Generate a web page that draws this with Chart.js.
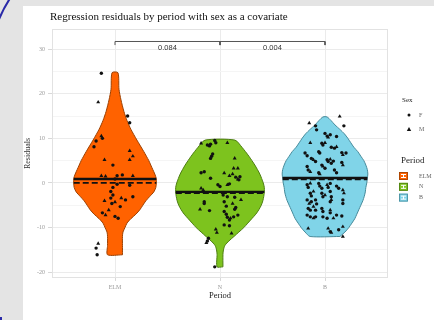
<!DOCTYPE html>
<html>
<head>
<meta charset="utf-8">
<script src="https://cdn.jsdelivr.net/npm/chart.js@4.4.1/dist/chart.umd.min.js"></script>
<style>
  html, body { margin: 0; padding: 0; }
  body { width: 434px; height: 320px; background: #e4e4e4; position: relative; overflow: hidden; }
  #frame { position: absolute; left: 0; top: 0; }
  #panel { position: absolute; left: 23px; top: 6px; width: 411px; height: 314px; background: #fff; }
</style>
</head>
<body>
<canvas id="frame" width="434" height="320"></canvas>
<div id="panel"><canvas id="violin" width="411" height="314"></canvas></div>
<script>
/* --------------- Categories --------------------- */
const periods = ["ELM", "N", "B"];
const sexes = ["F", "M"];
const pValues = ["0.084", "0.004"];

/* --------------- Violin outlines (residual level, half width in category units) --------------------- */
const elmLevels = [-16.1, -14, -12, -11, -10, -9, -8, -7, -6, -5, -4, -3, -2, -1, 0, 1, 2, 3, 4, 5, 7, 9.6, 12, 14, 16, 18.6, 21, 24.7];
const elmWidths = [0.071, 0.071, 0.071, 0.076, 0.095, 0.114, 0.152, 0.199, 0.237, 0.265, 0.294, 0.332, 0.37, 0.389, 0.393, 0.393, 0.379, 0.36, 0.341, 0.322, 0.275, 0.209, 0.152, 0.114, 0.085, 0.057, 0.038, 0.028];
const nLevels = [-18.8, -16, -15, -14, -13, -12, -11, -10, -9, -8, -7, -6, -5, -4, -3, -2, -1, 0, 2, 4, 6, 8, 9.6];
const nWidths = [0.028, 0.028, 0.033, 0.047, 0.085, 0.133, 0.18, 0.227, 0.265, 0.303, 0.341, 0.37, 0.393, 0.408, 0.417, 0.422, 0.422, 0.412, 0.379, 0.332, 0.275, 0.209, 0.142];
const bLevels = [-12, -11, -10, -9, -8, -7, -6, -5, -4, -3, -2, -1, 0, 1, 2, 3, 4, 5, 6, 7, 8, 9, 10, 11, 12, 13, 14, 14.8];
const bWidths = [0.142, 0.19, 0.227, 0.256, 0.284, 0.303, 0.322, 0.341, 0.36, 0.374, 0.384, 0.389, 0.398, 0.403, 0.408, 0.403, 0.389, 0.37, 0.341, 0.313, 0.275, 0.246, 0.218, 0.185, 0.142, 0.095, 0.057, 0.019];

/* --------------- Median (solid) and mean (dashed) --------------------- */
const medians = [0.9, -2.0, 1.1];
const means = [0.0, -2.3, 0.8];

/* --------------- Jittered residuals: [offset from category, residual, sex] --------------------- */
const elmPoints = [
  [-0.13, 24.6, "F"], [-0.16, 18.1, "M"], [0.12, 15.0, "F"], [0.14, 13.5, "F"], [-0.13, 10.5, "M"],
  [-0.12, 10.0, "F"], [-0.18, 9.4, "F"], [-0.2, 8.1, "F"], [0.14, 7.2, "M"], [0.17, 6.0, "M"],
  [0.14, 5.2, "M"], [-0.1, 5.2, "M"], [-0.02, 4.0, "F"], [-0.13, 1.6, "M"], [-0.09, 1.5, "M"],
  [0.02, 1.6, "F"], [0.07, 1.8, "F"], [0.17, 1.6, "M"], [0.0, 0.9, "F"], [0.02, -0.3, "F"],
  [0.14, -0.5, "F"], [-0.02, -1.0, "F"], [-0.04, -1.9, "F"], [-0.02, -2.7, "F"], [-0.04, -3.4, "F"],
  [-0.1, -4.0, "M"], [0.06, -3.4, "M"], [0.1, -3.8, "F"], [0.17, -3.1, "F"], [0.0, -4.3, "M"],
  [-0.12, -6.7, "F"], [-0.09, -7.2, "M"], [-0.03, -4.6, "F"], [0.0, -7.5, "F"], [0.03, -7.9, "F"],
  [0.05, -5.3, "F"], [-0.06, -6.1, "M"], [-0.16, -13.6, "M"], [-0.18, -14.6, "F"], [-0.17, -16.1, "F"],
];
const nPoints = [
  [-0.18, 8.9, "M"], [-0.12, 8.5, "F"], [-0.1, 8.3, "F"], [-0.09, 8.7, "F"], [-0.05, 9.5, "F"],
  [-0.04, 9.0, "F"], [0.07, 9.0, "M"], [-0.08, 6.0, "F"], [-0.09, 5.5, "F"], [-0.07, 6.5, "F"],
  [0.14, 5.5, "M"], [0.13, 3.3, "M"], [0.17, 3.3, "M"], [-0.18, 2.3, "F"], [-0.15, 2.5, "F"],
  [-0.09, 1.05, "F"], [0.04, 2.2, "M"], [0.09, 1.6, "M"], [0.12, 2.0, "M"], [0.15, 1.3, "F"],
  [0.18, 0.7, "F"], [0.17, 0.8, "M"], [0.19, 1.4, "F"], [-0.02, -0.4, "F"], [0.0, -0.8, "F"],
  [0.07, -0.4, "M"], [0.09, -0.2, "F"], [-0.18, -1.2, "M"], [-0.16, -1.6, "M"], [0.03, -2.7, "F"],
  [0.07, -3.1, "F"], [0.14, -3.2, "F"], [0.2, -3.8, "M"], [-0.15, -4.2, "F"], [-0.15, -4.6, "F"],
  [0.04, -4.2, "F"], [0.06, -5.2, "F"], [0.12, -4.6, "M"], [0.15, -5.5, "F"], [0.14, -5.9, "F"],
  [-0.19, -5.9, "M"], [-0.1, -6.2, "F"], [0.04, -6.4, "F"], [0.06, -7.0, "F"], [0.07, -7.7, "F"],
  [0.09, -8.3, "F"], [0.1, -7.9, "M"], [0.13, -7.6, "F"], [0.17, -7.2, "F"], [0.04, -9.4, "F"],
  [0.09, -9.6, "F"], [-0.04, -10.4, "M"], [-0.03, -11.1, "M"], [0.11, -11.3, "M"], [-0.11, -12.4, "F"],
  [-0.12, -13.0, "F"], [-0.13, -13.4, "M"], [-0.05, -18.8, "F"],
];
const bPoints = [
  [-0.15, 13.4, "M"], [0.14, 14.9, "M"], [0.18, 12.8, "F"], [-0.09, 12.8, "F"], [-0.08, 11.9, "F"],
  [0.0, 11.1, "F"], [0.02, 10.5, "F"], [0.03, 10.2, "M"], [0.05, 10.8, "F"], [0.11, 10.4, "F"],
  [-0.14, 9.0, "M"], [-0.03, 8.9, "F"], [-0.02, 8.5, "F"], [0.0, 9.0, "M"], [0.06, 8.0, "F"],
  [0.09, 7.8, "F"], [0.11, 8.1, "M"], [-0.06, 7.0, "F"], [-0.05, 6.7, "F"], [0.16, 6.8, "F"],
  [0.2, 6.7, "F"], [0.17, 6.3, "M"], [-0.19, 6.7, "F"], [-0.17, 6.1, "F"], [-0.13, 5.5, "F"],
  [-0.11, 5.2, "M"], [-0.09, 4.8, "F"], [0.02, 5.2, "F"], [0.03, 4.8, "F"], [0.05, 5.3, "M"],
  [0.06, 4.4, "F"], [0.08, 4.9, "F"], [-0.03, 4.0, "F"], [-0.02, 3.7, "M"], [0.0, 3.3, "F"],
  [0.16, 4.6, "F"], [0.17, 4.0, "M"], [-0.17, 3.7, "F"], [-0.16, 2.9, "F"], [-0.14, 2.5, "M"],
  [0.09, 2.9, "F"], [0.11, 2.3, "F"], [-0.06, 2.3, "F"], [-0.05, 2.0, "M"], [-0.17, -0.4, "F"],
  [-0.16, -1.0, "F"], [-0.14, -0.1, "M"], [-0.06, -0.1, "F"], [-0.05, -0.7, "F"], [-0.03, -1.2, "F"],
  [0.02, -0.4, "M"], [0.03, -1.0, "F"], [0.05, -0.1, "F"], [0.11, -0.7, "F"], [0.13, -1.2, "F"],
  [0.17, -1.6, "M"], [0.18, -2.3, "M"], [-0.14, -2.3, "F"], [-0.13, -2.9, "F"], [-0.11, -1.9, "M"],
  [-0.03, -2.3, "F"], [-0.02, -3.1, "F"], [0.0, -2.7, "M"], [0.05, -1.9, "F"], [0.06, -3.1, "F"],
  [-0.17, -3.8, "F"], [-0.15, -4.6, "M"], [-0.13, -4.2, "F"], [-0.09, -3.8, "F"], [-0.08, -4.7, "F"],
  [0.05, -4.2, "F"], [0.06, -3.8, "M"], [0.17, -3.8, "F"], [0.17, -4.6, "F"], [-0.16, -5.7, "F"],
  [-0.14, -6.1, "F"], [-0.11, -5.3, "M"], [-0.09, -6.1, "F"], [-0.03, -5.7, "F"], [-0.02, -6.4, "F"],
  [0.05, -6.1, "M"], [0.05, -6.7, "F"], [-0.17, -7.2, "F"], [-0.14, -7.6, "F"], [-0.11, -7.9, "M"],
  [-0.09, -7.6, "F"], [-0.02, -7.6, "F"], [0.02, -7.9, "F"], [0.08, -7.9, "M"], [0.11, -7.2, "F"],
  [0.16, -7.4, "F"], [-0.16, -10.2, "M"], [0.03, -10.2, "M"], [0.05, -10.9, "F"], [0.06, -11.1, "M"],
  [0.13, -10.5, "F"], [0.17, -9.8, "M"], [0.17, -12.0, "M"],
];

/* --------------- Styles --------------------- */
const fillColors = ["#ff6200", "#7dc31e", "#80d4e8"];
const edgeColors = ["#9c4000", "#4c7c12", "#468a9a"];
const serif = "'Liberation Serif', 'DejaVu Serif', serif";
const sans = "'Liberation Sans', Arial, sans-serif";

const levels = [elmLevels, nLevels, bLevels];
const widths = [elmWidths, nWidths, bWidths];
const points = [elmPoints, nPoints, bPoints];

/* --------------- Blue frame corner behind the panel --------------------- */
(function drawFrame() {
  const fc = document.getElementById("frame").getContext("2d");
  fc.strokeStyle = "#2a2aa8";
  fc.fillStyle = "#2a2aa8";
  fc.lineWidth = 2;
  fc.beginPath();
  fc.arc(112, 65.4, 122, Math.PI, Math.PI * 1.5);
  fc.stroke();
  fc.fillRect(0, 317, 2, 3);
})();

// half width of a violin at residual y (linear between profile rows)
function widthAt(g, y) {
  const lv = levels[g], w = widths[g];
  for (let i = 1; i < lv.length; i++) {
    if (y <= lv[i]) {
      const t = (y - lv[i - 1]) / (lv[i] - lv[i - 1]);
      return w[i - 1] + t * (w[i] - w[i - 1]);
    }
  }
  return w[w.length - 1];
}

function violinOutline(g) {
  const c = g + 1;
  const right = levels[g].map((y, i) => ({ x: c + widths[g][i], y }));
  const left = levels[g].map((y, i) => ({ x: c - widths[g][i], y })).reverse();
  return right.concat(left, [right[0]]);
}

/* --------------- Datasets --------------------- */
const datasets = [];

// points on top
sexes.forEach((s) => {
  const data = [];
  points.forEach((pts, g) => {
    pts.filter((p) => p[2] === s).forEach((p) => data.push({ x: g + 1 + p[0], y: p[1] }));
  });
  datasets.push({
    data,
    pointStyle: s === "F" ? "circle" : "triangle",
    pointRadius: s === "F" ? 1.7 : 2.3,
    backgroundColor: "#111",
    borderWidth: 0,
  });
});

// median and mean lines
periods.forEach((p, g) => {
  const c = g + 1;
  const wm = widthAt(g, medians[g]);
  datasets.push({
    data: [{ x: c - wm, y: medians[g] }, { x: c + wm, y: medians[g] }],
    showLine: true, pointRadius: 0, borderColor: "#111", borderWidth: 2.4,
  });
  const wa = widthAt(g, means[g]);
  datasets.push({
    data: [{ x: c - wa, y: means[g] }, { x: c + wa, y: means[g] }],
    showLine: true, pointRadius: 0, borderColor: "#111", borderWidth: 1.8, borderDash: [6, 3],
  });
});

// significance brackets
const bracketTop = 31.7;
const bracketFoot = 30.9;
pValues.forEach((_, i) => {
  datasets.push({
    data: [
      { x: i + 1, y: bracketFoot }, { x: i + 1, y: bracketTop },
      { x: i + 2, y: bracketTop }, { x: i + 2, y: bracketFoot },
    ],
    showLine: true, pointRadius: 0, borderColor: "#555", borderWidth: 1,
  });
});

// violins underneath
periods.forEach((p, g) => {
  datasets.push({
    data: violinOutline(g),
    showLine: true, pointRadius: 0, tension: 0.25,
    fill: "shape",
    backgroundColor: fillColors[g],
    borderColor: edgeColors[g],
    borderWidth: 1,
  });
});

/* --------------- Extras: title, border, p values, legend --------------------- */
const extras = {
  id: "extras",
  beforeDatasetsDraw(chart) {
    const { ctx, chartArea: a } = chart;
    ctx.save();
    ctx.strokeStyle = "#e2e2e2";
    ctx.lineWidth = 1;
    ctx.strokeRect(a.left + 0.5, a.top + 0.5, a.right - a.left - 1, a.bottom - a.top - 1);
    ctx.restore();
  },
  afterDraw(chart) {
    const { ctx, scales } = chart;
    const x = scales.x, y = scales.y;
    ctx.save();
    ctx.fillStyle = "#111";
    ctx.font = "11px " + serif;
    ctx.textBaseline = "middle";
    ctx.fillText("Regression residuals by period with sex as a covariate", 27, 11);

    ctx.font = "7.5px " + sans;
    ctx.fillStyle = "#333";
    ctx.textAlign = "center";
    pValues.forEach((t, i) => {
      ctx.fillText(t, x.getPixelForValue(i + 1.5), y.getPixelForValue(30.2));
    });

    // legend
    const lx = 379;
    ctx.textAlign = "left";
    ctx.fillStyle = "#222";
    ctx.font = "7px " + serif;
    ctx.fillText("Sex", lx, 94);
    ctx.font = "6px " + serif;
    ctx.fillStyle = "#666";
    ctx.fillText("F", 396, 109);
    ctx.fillText("M", 396, 123);
    ctx.fillStyle = "#111";
    ctx.beginPath();
    ctx.arc(386, 109, 1.5, 0, Math.PI * 2);
    ctx.fill();
    ctx.beginPath();
    ctx.moveTo(386, 121);
    ctx.lineTo(388.2, 125);
    ctx.lineTo(383.8, 125);
    ctx.closePath();
    ctx.fill();

    ctx.fillStyle = "#222";
    ctx.font = "9px " + serif;
    ctx.fillText("Period", 378, 155);
    periods.forEach((p, g) => {
      const top = 166 + g * 10.8;
      ctx.fillStyle = fillColors[g];
      ctx.fillRect(376, top, 9, 8);
      ctx.strokeStyle = edgeColors[g];
      ctx.lineWidth = 0.8;
      ctx.strokeRect(376.5, top + 0.5, 8, 7);
      ctx.strokeStyle = "#fff";
      ctx.lineWidth = 1;
      ctx.beginPath();
      ctx.moveTo(378, top + 2.5); ctx.lineTo(383, top + 2.5);
      ctx.moveTo(380.5, top + 2.5); ctx.lineTo(380.5, top + 5.5);
      ctx.moveTo(378, top + 5.5); ctx.lineTo(383, top + 5.5);
      ctx.stroke();
      ctx.fillStyle = "#666";
      ctx.font = "6px " + serif;
      ctx.fillText(p, 396, top + 4);
    });
    ctx.restore();
  },
};

/* --------------- Chart --------------------- */
const yTicks = [-20, -15, -10, -5, 0, 5, 10, 15, 20, 25, 30];
new Chart(document.getElementById("violin"), {
  type: "scatter",
  data: { datasets },
  plugins: [extras],
  options: {
    responsive: false,
    animation: false,
    devicePixelRatio: 1,
    layout: { padding: { top: 23, right: 46, left: 0, bottom: 0 } },
    plugins: { legend: { display: false }, tooltip: { enabled: false } },
    scales: {
      x: {
        type: "linear", min: 0.4, max: 3.6,
        afterBuildTicks: (s) => { s.ticks = [1, 2, 3].map((v) => ({ value: v })); },
        afterFit: (s) => { s.height = 42; },
        ticks: {
          callback: (v) => periods[v - 1] || "",
          font: { family: serif, size: 6 }, color: "#999", padding: 3, maxRotation: 0,
        },
        grid: { color: "#ebebeb", tickLength: 3, tickColor: "#d8d8d8" },
        border: { display: false },
        title: { display: true, text: "Period", font: { family: serif, size: 8.5 }, color: "#222", padding: { top: 0, bottom: 19 } },
      },
      y: {
        min: -21.3, max: 34.5,
        afterBuildTicks: (s) => { s.ticks = yTicks.map((v) => ({ value: v })); },
        afterFit: (s) => { s.width = 29; },
        ticks: {
          callback: (v) => (v % 10 === 0 ? v : ""),
          font: { family: serif, size: 6 }, color: "#999", padding: 3,
        },
        grid: {
          color: (c) => (c.tick && c.tick.value % 10 === 0 ? "#ebebeb" : "#f5f5f5"),
          tickColor: (c) => (c.tick && c.tick.value % 10 === 0 ? "#d8d8d8" : "rgba(0,0,0,0)"),
          tickLength: 4,
        },
        border: { display: false },
        title: { display: true, text: "Residuals", font: { family: serif, size: 8 }, color: "#333", padding: { top: 0, bottom: 0 } },
      },
    },
  },
});
</script>
</body>
</html>
